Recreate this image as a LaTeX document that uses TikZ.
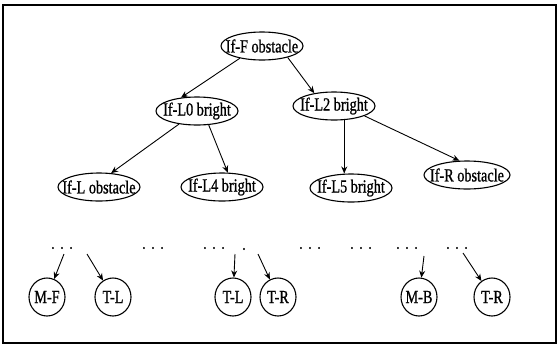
\documentclass[tikz,border=0pt]{standalone}
\usepackage{fontspec}
\setmainfont{Liberation Serif}[FakeStretch=0.77,FakeBold=0.9]
\usetikzlibrary{shapes.geometric,arrows.meta}
\begin{document}
\begin{tikzpicture}[x=1pt,y=-1pt,
  cond/.style={ellipse,draw,line width=1.1pt,inner xsep=-15pt,inner ysep=-8pt,
    minimum width=82pt,minimum height=28pt,font=\fontsize{18.5}{18.5}\selectfont},
  act/.style={ellipse,draw,line width=1.1pt,inner xsep=-6pt,inner ysep=-6pt,
    minimum width=36pt,minimum height=38pt,font=\fontsize{18.5}{18.5}\selectfont},
  link/.style={-{Stealth[length=7pt,width=6pt]},line width=0.9pt},
  ellip/.style={inner sep=0pt,font=\fontsize{16}{16}\selectfont}]
\useasboundingbox (0,0) rectangle (559,349);
\draw[line width=1.4pt] (3,5) rectangle (556,343);

% condition tree
\node[cond] (F)  at (262,46)  {If-F obstacle};
\node[cond] (L0) at (197,111) {If-L0 bright};
\node[cond] (L2) at (334,106) {If-L2 bright};
\node[cond] (L)  at (99,187)  {If-L obstacle};
\node[cond] (L4) at (222,187) {If-L4 bright};
\node[cond] (L5) at (351,188) {If-L5 bright};
\node[cond,minimum width=86pt] (R) at (467,175) {If-R obstacle};

\draw[link] (F.209) -- (L0.140);
\draw[link] (F.336) -- (L2.147);
\draw[link] (L0.216) -- (L.49);
\draw[link] (L0.310) -- (L4.68);
\draw[link] (L2.306) -- (L2.306 |- L5.north);
\draw[link] (L2.342) -- (R.118);

% elided levels
\node[ellip] (e1) at (62,248)  {.\kern6pt.\kern6pt.};
\node[ellip] (e2) at (153,248) {.\kern6pt.\kern6pt.};
\node[ellip] (e3) at (214,248) {.\kern6pt.\kern6pt.};
\node[ellip] (e4) at (310,248) {.\kern6pt.\kern6pt.};
\node[ellip] (e5) at (361,248) {.\kern6pt.\kern6pt.};
\node[ellip] (e6) at (407,248) {.\kern6pt.\kern6pt.};
\node[ellip] (e7) at (457,248) {.\kern6pt.\kern6pt.};
\node[ellip] (e8) at (244,249) {.};

% actions
\node[act] (MF)  at (47,297)  {M-F};
\node[act] (TL1) at (113,297) {T-L};
\node[act] (TL2) at (233,297) {T-L};
\node[act] (TR1) at (278,297) {T-R};
\node[act] (MB)  at (419,297) {M-B};
\node[act] (TR2) at (492,297) {T-R};

\coordinate (s1) at (64,254);
\coordinate (s2) at (87,254);
\coordinate (s3) at (235,254);
\coordinate (s4) at (258,254);
\coordinate (s5) at (424,256);
\coordinate (s6) at (463,253);
\draw[link] (s1) -- (MF);
\draw[link] (s2) -- (TL1);
\draw[link] (s3) -- (TL2);
\draw[link] (s4) -- (TR1);
\draw[link] (s5) -- (MB);
\draw[link] (s6) -- (TR2);
\end{tikzpicture}
\end{document}
